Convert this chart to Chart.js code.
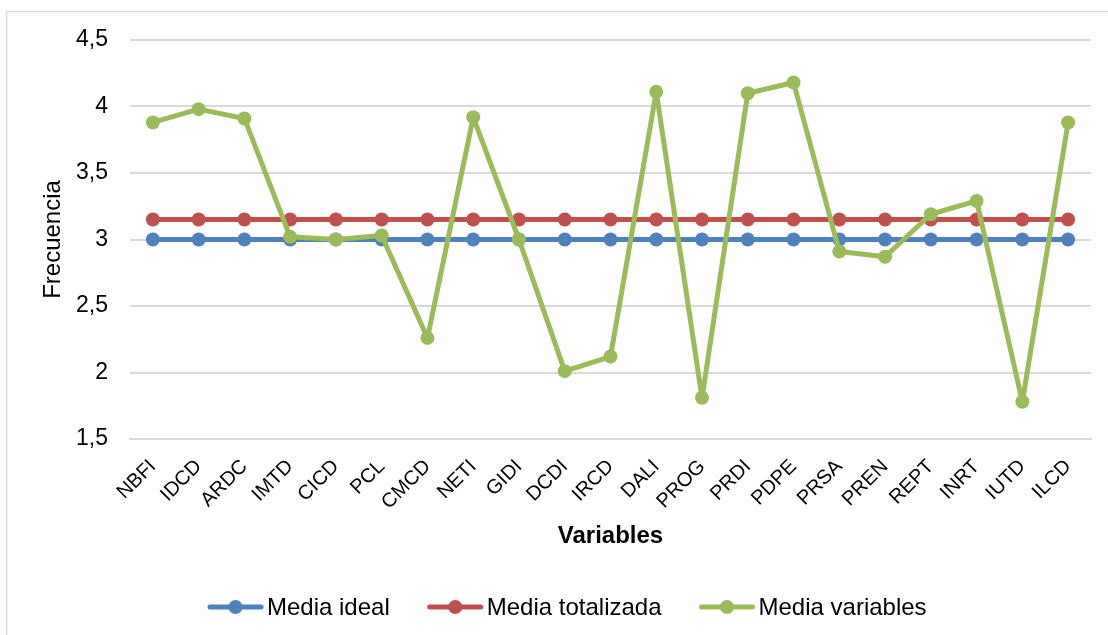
<!DOCTYPE html>
<html>
<head>
<meta charset="utf-8">
<script src="https://cdn.jsdelivr.net/npm/chart.js@4/dist/chart.umd.min.js"></script>
<style>
  html, body { margin: 0; padding: 0; background: #fff; }
  #wrap { position: relative; width: 1108px; height: 635px; }
</style>
</head>
<body>
<div id="wrap"><canvas id="chart" width="1108" height="635"></canvas></div>
<script>
"use strict";

// chart data
var categories = ["NBFI", "IDCD", "ARDC", "IMTD", "CICD", "PCL", "CMCD", "NETI", "GIDI", "DCDI", "IRCD",
                  "DALI", "PROG", "PRDI", "PDPE", "PRSA", "PREN", "REPT", "INRT", "IUTD", "ILCD"];
var mediaIdeal = [3, 3, 3, 3, 3, 3, 3, 3, 3, 3, 3, 3, 3, 3, 3, 3, 3, 3, 3, 3, 3];
var mediaTotalizada = [3.15, 3.15, 3.15, 3.15, 3.15, 3.15, 3.15, 3.15, 3.15, 3.15, 3.15,
                       3.15, 3.15, 3.15, 3.15, 3.15, 3.15, 3.15, 3.15, 3.15, 3.15];
var mediaVariables = [3.88, 3.98, 3.91, 3.02, 3.0, 3.03, 2.26, 3.92, 3.0, 2.01, 2.12,
                      4.11, 1.81, 4.10, 4.18, 2.91, 2.87, 3.19, 3.29, 1.78, 3.88];
var seriesNames = ["Media ideal", "Media totalizada", "Media variables"];
var seriesColors = ["#4f81bd", "#c0504d", "#9bbb59"];

var fontFamily = "'Liberation Sans', Arial, sans-serif";

// outer frame like the office chart border
var framePlugin = {
	id: "frame",
	beforeDraw: function(chart) {
		var ctx = chart.ctx;
		ctx.save();
		ctx.fillStyle = "#fff";
		ctx.fillRect(0, 0, chart.width, chart.height);
		ctx.strokeStyle = "#d9d9d9";
		ctx.lineWidth = 1.5;
		ctx.strokeRect(6.5, 11.5, 1200, 700);
		ctx.restore();
	}
};

// legend drawn as line + marker + label, below the axis title
var lineLegendPlugin = {
	id: "lineLegend",
	afterDraw: function(chart) {
		var ctx = chart.ctx;
		var lineLen = 55, gap = 4, spacing = 38, y = 607;
		var x = 208;
		ctx.save();
		ctx.font = "24px " + fontFamily;
		seriesNames.forEach(function(name, i) {
			ctx.strokeStyle = seriesColors[i];
			ctx.fillStyle = seriesColors[i];
			ctx.lineWidth = 5;
			ctx.lineCap = "round";
			ctx.beginPath();
			ctx.moveTo(x + 2, y);
			ctx.lineTo(x + lineLen - 2, y);
			ctx.stroke();
			ctx.beginPath();
			ctx.arc(x + lineLen / 2, y, 7, 0, Math.PI * 2);
			ctx.fill();
			ctx.fillStyle = "#000";
			ctx.textBaseline = "middle";
			ctx.textAlign = "left";
			ctx.fillText(name, x + lineLen + gap, y + 1);
			x += lineLen + gap + ctx.measureText(name).width + spacing;
		});
		ctx.restore();
	}
};

function makeDataset(i, values, order) {
	return {
		label: seriesNames[i],
		data: values,
		borderColor: seriesColors[i],
		backgroundColor: seriesColors[i],
		borderWidth: 5,
		borderJoinStyle: "round",
		borderCapStyle: "round",
		pointRadius: 7,
		pointHoverRadius: 7,
		pointBorderWidth: 0,
		tension: 0,
		order: order
	};
}

var ctx = document.getElementById("chart").getContext("2d");
var chart = new Chart(ctx, {
	type: "line",
	data: {
		labels: categories,
		datasets: [
			makeDataset(0, mediaIdeal, 2),
			makeDataset(1, mediaTotalizada, 1),
			makeDataset(2, mediaVariables, 0)
		]
	},
	options: {
		responsive: false,
		animation: false,
		layout: { padding: { left: 0, top: 40, right: 17, bottom: 70 } },
		plugins: {
			legend: { display: false },
			tooltip: { enabled: false }
		},
		scales: {
			x: {
				offset: true,
				grid: { display: false, drawTicks: false },
				border: { display: true, color: "#d9d9d9", width: 2 },
				ticks: {
					color: "#000",
					font: { family: fontFamily, size: 20 },
					minRotation: 45,
					maxRotation: 45,
					autoSkip: false,
					padding: 16
				},
				title: {
					display: true,
					text: "Variables",
					color: "#000",
					font: { family: fontFamily, size: 24, weight: "bold" },
					padding: { top: 0, bottom: 14 }
				},
				afterFit: function(scale) { scale.height = 126; }
			},
			y: {
				min: 1.5,
				max: 4.5,
				grid: { color: "#d9d9d9", lineWidth: 2, drawTicks: false },
				border: { display: false },
				ticks: {
					stepSize: 0.5,
					color: "#000",
					font: { family: fontFamily, size: 23 },
					padding: 22,
					callback: function(v) { return String(v).replace(".", ","); }
				},
				title: {
					display: true,
					text: "Frecuencia",
					color: "#000",
					font: { family: fontFamily, size: 24 },
					padding: { top: 39, bottom: 0 }
				},
				afterFit: function(scale) { scale.width = 130; }
			}
		}
	},
	plugins: [framePlugin, lineLegendPlugin]
});
</script>
</body>
</html>
